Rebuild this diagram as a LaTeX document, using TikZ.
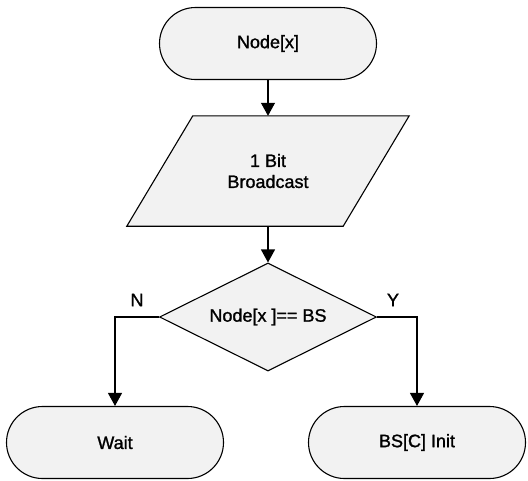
\documentclass[tikz,border=0pt]{standalone}
\usepackage{fontspec}
\setmainfont{Liberation Sans}[BoldFont=Liberation Sans, BoldFeatures={FakeBold=1.3}]
\usetikzlibrary{shapes.misc,shapes.geometric,arrows.meta,backgrounds}
\begin{document}
\begin{tikzpicture}[x=1pt,y=-1pt,
  every node/.style={font=\fontsize{18}{21}\selectfont\bfseries},
  shapefill/.style={draw, line width=1.1pt, fill=black!5},
  term/.style={shapefill, rounded rectangle, minimum width=217pt, minimum height=72pt, inner sep=0pt},
  decision/.style={shapefill, diamond, aspect=2, minimum width=217pt, minimum height=108pt, inner sep=0pt},
  iobox/.style={rectangle, minimum width=216pt, minimum height=110pt, inner sep=0pt, align=center},
  flow/.style={line width=1.1pt, -{Triangle[length=13pt,width=14pt]}},
  ]
\useasboundingbox (0,0) rectangle (528,480);

% terminals, data block and decision
\node[term] (start) at (268,43.5) {Node[x]};
\node[iobox] (io) at (268,171) {1 Bit\\Broadcast};
\begin{scope}[on background layer]
  \draw[shapefill] ([xshift=33pt]io.north west) -- ([xshift=33pt]io.north east)
    -- ([xshift=-33pt]io.south east) -- ([xshift=-33pt]io.south west) -- cycle;
\end{scope}
\node[decision] (dec) at (268,317) {Node[x ]== BS};
\node[term] (wait) at (115,442.5) {Wait};
\node[term] (init) at (417,442.5) {BS[C] Init};

% branch labels
\node (no) at (137,300) {N};
\node (yes) at (393,300) {Y};

% connectors
\draw[flow] (start.south) -- (io.north);
\draw[flow] (io.south) -- (dec.north);
\draw[flow] (dec.west) -| (wait.north);
\draw[flow] (dec.east) -| (init.north);
\end{tikzpicture}
\end{document}
